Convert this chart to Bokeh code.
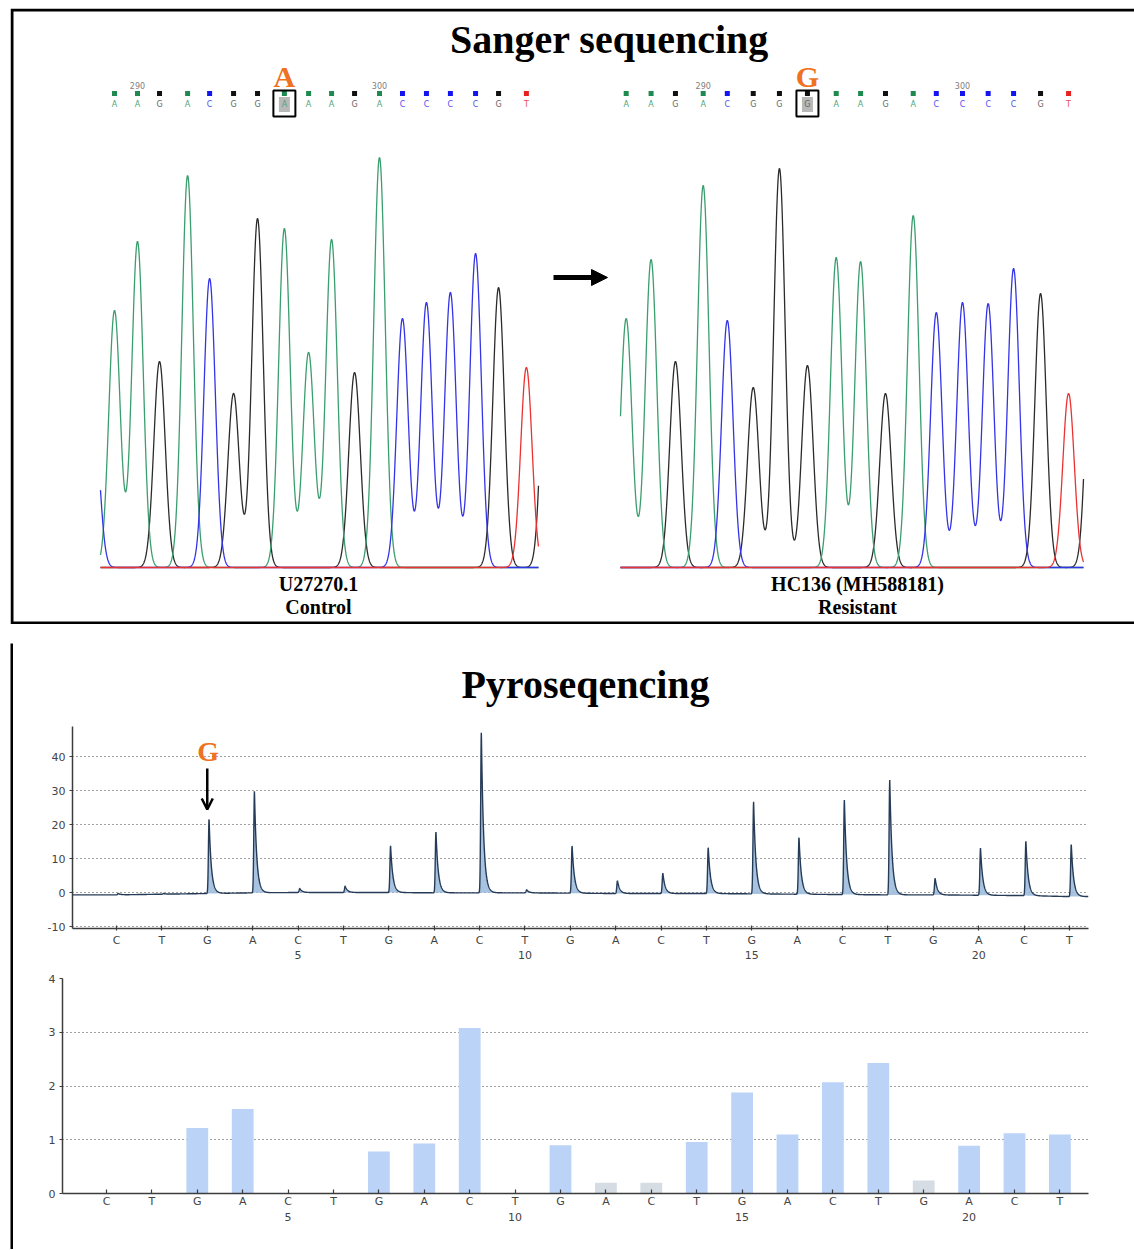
import numpy as np
from bokeh.plotting import figure
from bokeh.models import (Range1d, FixedTicker, LinearAxis, Grid, Arrow,
                          NormalHead, OpenHead, Spacer)
from bokeh.layouts import row, column
from bokeh.core.properties import value
from bokeh.embed import file_html
from bokeh.resources import INLINE

# ======================= DATA =======================
# --- Sanger: control U27270.1 (called bases, peak positions in base numbers, peak heights) ---
ctrl_calls = ["A", "A", "G", "A", "C", "G", "G", "A", "A", "A", "G", "A", "C", "C", "C", "C", "G", "T"]
ctrl_pos = [289.05, 290.0, 290.91, 292.07, 292.98, 293.97, 294.96, 296.07, 297.07,
            298.02, 298.97, 300.0, 300.95, 301.94, 302.93, 303.97, 304.92, 306.07]
ctrl_height = [257, 326, 206, 392, 289, 174, 349, 339, 215, 328, 195, 410, 249, 265, 275, 314, 280, 200]
ctrl_edge_bases = ["C", "G"]
ctrl_edge_pos = [288.2, 306.95]
ctrl_edge_height = [150, 300]
ctrl_first_base = 289
ctrl_numbers = [290, 300]

# --- Sanger: resistant HC136 (MH588181) ---
res_calls = ["A", "A", "G", "A", "C", "G", "G", "G", "A", "A", "G", "A", "C", "C", "C", "C", "G", "T"]
res_pos = [287.03, 287.99, 288.93, 290.0, 290.93, 291.93, 292.94, 294.02, 295.13,
           296.07, 297.03, 298.10, 298.99, 300.0, 300.99, 301.97, 303.01, 304.09]
res_height = [249, 308, 206, 382, 247, 180, 399, 202, 310, 306, 174, 352, 255, 265, 264, 299, 274, 174]
res_edge_bases = ["G"]
res_edge_pos = [305.0]
res_edge_height = [280]
res_first_base = 287
res_numbers = [290, 300]

mut_index = 7            # the mutated position (A -> G)
mut_ctrl, mut_res = "A", "G"

# --- Pyrosequencing ---
pyro_disp = ["C", "T", "G", "A", "C", "T", "G", "A", "C", "T", "G",
             "A", "C", "T", "G", "A", "C", "T", "G", "A", "C", "T"]
pyro_numbers = [5, 10, 15, 20]
pyro_peak = [0.4, 0.2, 22.0, 30.0, 1.2, 1.9, 13.8, 18.0, 47.4, 0.9, 14.0,
             3.8, 6.0, 13.6, 27.1, 16.8, 27.9, 33.8, 4.9, 13.9, 16.1, 15.4]
pyro_base = [-0.7, -0.5, -0.3, -0.1, 0.0, 0.0, 0.0, -0.1, -0.1, -0.1, -0.2,
             -0.3, -0.3, -0.3, -0.4, -0.5, -0.6, -0.7, -0.7, -0.8, -0.9, -1.2]
pyro_yticks = [-10, 0, 10, 20, 30, 40]

hist_vals = [0, 0, 1.22, 1.57, 0, 0, 0.78, 0.93, 3.08, 0, 0.90,
             0.20, 0.20, 0.96, 1.88, 1.10, 2.07, 2.43, 0.24, 0.89, 1.12, 1.10]
hist_gray = [False, False, False, False, False, False, False, False, False, False, False,
             True, True, False, False, False, False, False, True, False, False, False]
hist_yticks = [0, 1, 2, 3, 4]

# ======================= STYLE =======================
TRACE_COL = {"A": "#3a9e6e", "C": "#3434e6", "G": "#2b2b2b", "T": "#ea3232"}
SQ_COL = {"A": "#1f8a4f", "C": "#1414f0", "G": "#111111", "T": "#e82020"}
TXT_COL = {"A": "#4aa57a", "C": "#5050f0", "G": "#666666", "T": "#e85050"}
ORANGE = "#ee7222"
SERIF = value("Liberation Serif")
SANS = "DejaVu Sans"


def lin_range(px_anchor, val_anchor, px_per_unit, px_lo, px_hi):
    return Range1d(val_anchor + (px_lo - px_anchor) / px_per_unit,
                   val_anchor + (px_hi - px_anchor) / px_per_unit)


def blank_fig(**kw):
    f = figure(title=None, toolbar_location=None, output_backend="svg",
               x_axis_type=None, y_axis_type=None, outline_line_color=None, **kw)
    f.grid.visible = False
    return f


def serif_text(f, x, y, text, size, color="black", **kw):
    f.text(x=x, y=y, text=text, text_font=SERIF, text_font_style="bold",
           text_font_size=size, text_align="center", text_baseline="middle",
           text_color=color, **kw)


# ======================= TOP: SANGER =======================
X0, X1 = 10, 1134
TW, TH = X1 - X0, 616
top = blank_fig(width=TW, height=TH, x_range=Range1d(X0, X1), y_range=Range1d(8 + TH, 8),
                min_border=0)

L_PPB, R_PPB = 24.2, 25.93
top.extra_x_ranges = {"LX": lin_range(137, 290, L_PPB, X0, X1),
                      "RX": lin_range(702.7, 290, R_PPB, X0, X1)}
top.extra_y_ranges = {"SY": Range1d(-(8 + TH - 567), 567 - 8)}

# box border (right side runs off the page as in the source)
top.line(x=[X1, 11.5, 11.5, X1], y=[9.5, 9.5, 622.5, 622.5],
         line_color="black", line_width=3, line_join="miter")

serif_text(top, [609], [39], ["Sanger sequencing"], "40px")


def chromatogram(rname, calls, pos, hts, ebases, epos, ehts, first, numbers, mut_letter,
                 px_lo, px_hi, px_anchor, ppb):
    bases = calls + ebases
    allpos = pos + epos
    allh = hts + ehts
    b_lo = 290 + (px_lo - px_anchor) / ppb
    b_hi = 290 + (px_hi - px_anchor) / ppb
    xs = np.linspace(b_lo, b_hi, 1600)
    sig = 5.7 / ppb
    for b in ["G", "A", "C", "T"]:
        ys = np.zeros_like(xs)
        for bb, p0, h in zip(bases, allpos, allh):
            if bb == b:
                ys = ys + h * np.exp(-0.5 * ((xs - p0) / sig) ** 2)
        top.line(x=xs, y=ys, line_color=TRACE_COL[b], line_width=1.3,
                 x_range_name=rname, y_range_name="SY")
    # base-call row
    top.rect(x=[pos[mut_index]], y=[104], width=11, height=15, width_units="screen",
             height_units="screen", fill_color="#b8b8b8", line_color=None, x_range_name=rname)
    top.rect(x=pos, y=[93] * len(pos), width=5, height=5, width_units="screen",
             height_units="screen", fill_color=[SQ_COL[c] for c in calls], line_color=None,
             x_range_name=rname)
    top.text(x=pos, y=[104] * len(pos), text=calls, text_font=value(SANS),
             text_font_size="8px", text_align="center", text_baseline="middle",
             text_color=[TXT_COL[c] for c in calls], x_range_name=rname)
    top.text(x=[pos[n - first] for n in numbers], y=[85] * len(numbers),
             text=[str(n) for n in numbers], text_font=value(SANS), text_font_size="8px",
             text_align="center", text_baseline="middle", text_color="#808080",
             x_range_name=rname)
    top.rect(x=[pos[mut_index]], y=[103], width=22, height=26, width_units="screen",
             height_units="screen", fill_color=None, line_color="black", line_width=2,
             x_range_name=rname)
    serif_text(top, [pos[mut_index]], [76], [mut_letter], "30px", ORANGE, x_range_name=rname)


chromatogram("LX", ctrl_calls, ctrl_pos, ctrl_height, ctrl_edge_bases, ctrl_edge_pos,
             ctrl_edge_height, ctrl_first_base, ctrl_numbers, mut_ctrl, 100, 538, 137, L_PPB)
chromatogram("RX", res_calls, res_pos, res_height, res_edge_bases, res_edge_pos,
             res_edge_height, res_first_base, res_numbers, mut_res, 620, 1083, 702.7, R_PPB)

top.add_layout(Arrow(end=NormalHead(size=16, fill_color="black", line_color="black"),
                     x_start=553, y_start=277, x_end=607, y_end=277,
                     line_color="black", line_width=5))

serif_text(top, [318, 318, 857, 857], [583, 606, 583, 606],
           ["U27270.1", "Control", "HC136 (MH588181)", "Resistant"], "20px")

# ======================= BOTTOM: PYROSEQUENCING =======================
IX0 = 13
IW = X1 - IX0          # inner width of bottom box (right side runs off the page)
INNER_H = 606
PT_H, PY_H = 74, 250
PY_TOP = 643 + PT_H
HI_H = INNER_H - PT_H - PY_H
HI_TOP = PY_TOP + PY_H
MB_L = 62 - IX0        # common left border of the stacked figures
MB_R = X1 - 1088       # common right border
PY_SHIFT = 72 - 62     # pyrogram frame starts further right than histogram frame


def bar(w, h):
    return blank_fig(width=w, height=h, x_range=Range1d(0, 1), y_range=Range1d(0, 1),
                     min_border=0, background_fill_color="black", border_fill_color="black")


ptitle = blank_fig(width=IW, height=PT_H, x_range=Range1d(62, 1088),
                   y_range=Range1d(PY_TOP, 643), min_border_left=MB_L,
                   min_border_right=MB_R, min_border_top=0, min_border_bottom=0)
serif_text(ptitle, [585], [684], ["Pyroseqencing"], "40px")

AX_COL = "#3c3c3c"
LAB_COL = "#444444"


def style_axis(ax, tick_in, tick_out, standoff):
    ax.axis_line_color = AX_COL
    ax.axis_line_width = 1.5
    ax.major_tick_line_color = AX_COL
    ax.major_tick_line_width = 1.2
    ax.major_tick_in = tick_in
    ax.major_tick_out = tick_out
    ax.minor_tick_line_color = None
    ax.major_label_standoff = standoff
    ax.major_label_text_font = SANS
    ax.major_label_text_font_size = "11px"
    ax.major_label_text_color = LAB_COL


def add_axes(f, yticks, ystandoff, xtick_in, xtick_out, xstandoff, nstandoff):
    idx = list(range(1, len(pyro_disp) + 1))
    yax = LinearAxis(ticker=FixedTicker(ticks=yticks),
                     major_label_overrides={t: str(t) for t in yticks})
    style_axis(yax, 0, 3, ystandoff)
    f.add_layout(yax, "left")
    xax = LinearAxis(ticker=FixedTicker(ticks=idx),
                     major_label_overrides={i: d for i, d in zip(idx, pyro_disp)})
    style_axis(xax, xtick_in, xtick_out, xstandoff)
    f.add_layout(xax, "below")
    nax = LinearAxis(ticker=FixedTicker(ticks=pyro_numbers),
                     major_label_overrides={n: str(n) for n in pyro_numbers})
    style_axis(nax, 0, 0, nstandoff)
    nax.axis_line_color = None
    nax.major_tick_line_color = None
    f.add_layout(nax, "below")
    f.add_layout(Grid(dimension=1, ticker=FixedTicker(ticks=yticks),
                      grid_line_color="#444444", grid_line_dash="1 3", grid_line_width=1))


# ---- pyrogram ----
pyro_xr = lin_range(116, 1, 45.38, 72, 1088)
pyro = blank_fig(width=IW - PY_SHIFT, height=PY_H, x_range=pyro_xr,
                 y_range=Range1d(-(928 - 892) / 3.4, (892 - 726) / 3.4),
                 min_border_left=MB_L, min_border_right=MB_R,
                 min_border_top=726 - PY_TOP, min_border_bottom=PY_TOP + PY_H - 928)
add_axes(pyro, pyro_yticks, 4, 3, 2, 3, 1)

pidx = np.arange(1, len(pyro_disp) + 1)
xs = np.linspace(pyro_xr.start, pyro_xr.end, 7000)
base = np.interp(xs, pidx, pyro_base)
trace = base.copy()
for i, h in zip(pidx, pyro_peak):
    d = xs - (i + 0.04)
    trace = trace + h * np.where(d < 0, np.exp(-(d / 0.02) ** 2), np.exp(-d / 0.05))
pyro.varea(x=xs, y1=base, y2=trace, fill_color="#9fbddd", fill_alpha=0.9)
pyro.line(x=xs, y=trace, line_color="#263b57", line_width=1.4)

serif_text(pyro, [3.02], [(892 - 751) / 3.4], ["G"], "28px", ORANGE)
pyro.add_layout(Arrow(end=OpenHead(size=11, line_width=2.5, line_color="black"),
                      x_start=3.0, y_start=(892 - 768) / 3.4, x_end=3.0,
                      y_end=(892 - 809) / 3.4, line_color="black", line_width=2.5))

# ---- histogram ----
hist = blank_fig(width=IW, height=HI_H, x_range=lin_range(106, 1, 45.4, 62, 1088),
                 y_range=Range1d(0, 4), min_border_left=MB_L, min_border_right=MB_R,
                 min_border_top=978 - HI_TOP, min_border_bottom=HI_TOP + HI_H - 1193)
add_axes(hist, hist_yticks, 4, 4, 0, 1, 2)
hist.vbar(x=list(range(1, len(hist_vals) + 1)), top=hist_vals, width=0.48,
          fill_color=["#d6dce3" if g else "#bcd3f8" for g in hist_gray], line_color=None)

inner = column(ptitle, row(Spacer(width=PY_SHIFT, height=PY_H), pyro), hist)
bottom = column(bar(TW, 3), row(bar(3, INNER_H), inner))
page = row(Spacer(width=X0, height=10),
           column(Spacer(width=10, height=8), top, Spacer(width=10, height=16), bottom))

open("out.html", "w").write(file_html(page, INLINE))
